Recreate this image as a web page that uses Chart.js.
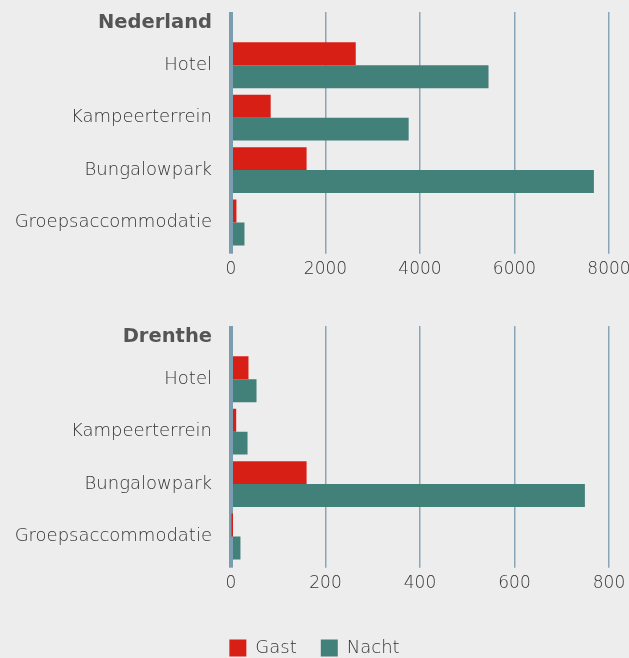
<!DOCTYPE html>
<html>
<head>
<meta charset="utf-8">
<script src="https://cdn.jsdelivr.net/npm/chart.js@4/dist/chart.umd.min.js"></script>
<style>
  body { margin: 0; background: #ededed; overflow: hidden; width: 629px; height: 658px; }
  .panel { position: absolute; left: 0; width: 629px; }
  .ttl { position: absolute; left: 0; top: 10px; width: 212px; text-align: right;
         font: bold 19.5px "DejaVu Sans", sans-serif; line-height: 24px; color: #555; }
</style>
</head>
<body>
<div class="panel" style="top:0;height:314px"><canvas id="chartNL"></canvas><div class="ttl">Nederland</div></div>
<div class="panel" style="top:314px;height:360px"><canvas id="chartDR"></canvas><div class="ttl">Drenthe</div></div>
<script>
const categories = ["Hotel", "Kampeerterrein", "Bungalowpark", "Groepsaccommodatie"];
const seriesNames = ["Gast", "Nacht"];
const nlGast = [2640, 840, 1600, 115];
const nlNacht = [5450, 3760, 7680, 285];
const drGast = [37, 11, 160, 1];
const drNacht = [54, 35, 749, 20];
const nlMax = 8000, nlStep = 2000;
const drMax = 800, drStep = 200;

const RED = "#d81f16";
const TEAL = "#42807a";
const TEXT = "#333";
const FONT = { family: "'DejaVu Sans'", size: 18, weight: "200" };

const gridColor = (c) => (c.tick && c.tick.value === 0 ? "#7b9db0" : "rgba(110,148,170,0.8)");
const gridWidth = (c) => (c.tick && c.tick.value === 0 ? 4 : 1.5);

function makeChart(id, gast, nacht, max, step, xHeight, showLegend) {
    const ctx = document.getElementById(id).getContext("2d");
    return new Chart(ctx, {
        type: "bar",
        data: {
            labels: categories,
            datasets: [
                { label: seriesNames[0], data: gast, backgroundColor: RED, borderWidth: 0 },
                { label: seriesNames[1], data: nacht, backgroundColor: TEAL, borderWidth: 0 },
            ],
        },
        options: {
            indexAxis: "y",
            responsive: true,
            maintainAspectRatio: false,
            animation: false,
            categoryPercentage: 0.875,
            barPercentage: 1,
            layout: { padding: { top: 12, left: 0, right: 0, bottom: showLegend ? 7 : 0 } },
            plugins: {
                legend: {
                    display: showLegend,
                    position: "bottom",
                    labels: {
                        boxWidth: 17,
                        boxHeight: 17,
                        padding: 24,
                        color: TEXT,
                        font: FONT,
                    },
                },
                tooltip: { enabled: false },
            },
            scales: {
                x: {
                    min: 0,
                    max: max,
                    z: 1,
                    border: { display: false },
                    grid: { color: gridColor, lineWidth: gridWidth, tickColor: gridColor, tickWidth: gridWidth, tickLength: 5 },
                    ticks: { stepSize: step, padding: 6, color: TEXT, font: { ...FONT, size: 17 }, callback: (v) => String(v) },
                    afterFit: (s) => { s.height = xHeight; s.paddingRight = 20; },
                },
                // alleen voor de verlengde rasterlijnen boven het plotvlak
                x2: {
                    type: "linear",
                    axis: "x",
                    position: "top",
                    min: 0,
                    max: max,
                    z: 1,
                    border: { display: false },
                    grid: { drawOnChartArea: false, color: gridColor, lineWidth: gridWidth, tickColor: gridColor, tickWidth: gridWidth, tickLength: 27 },
                    ticks: { stepSize: step, display: false },
                    afterFit: (s) => { s.height = 27; },
                },
                y: {
                    border: { display: false },
                    grid: { display: false, drawTicks: false },
                    ticks: { padding: 19, color: TEXT, font: FONT },
                    afterFit: (s) => { s.width = 231; },
                },
            },
        },
    });
}

makeChart("chartNL", nlGast, nlNacht, nlMax, nlStep, 65.3, false);
makeChart("chartDR", drGast, drNacht, drMax, drStep, 52.3, true);
</script>
</body>
</html>
